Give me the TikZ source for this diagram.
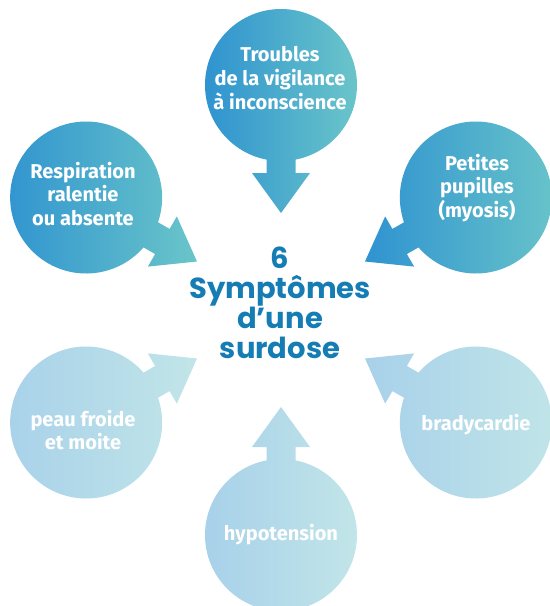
\documentclass[tikz,border=0pt]{standalone}
\usepackage{fontspec}
\setmainfont{Fira Sans}
\newfontfamily\hubfont{Poppins}
\definecolor{deepL}{HTML}{2F93D0}
\definecolor{deepR}{HTML}{6AC5C9}
\definecolor{paleL}{HTML}{A8D1EA}
\definecolor{paleR}{HTML}{C1E5E8}
\definecolor{hubblue}{HTML}{167DB4}
\begin{document}
\begin{tikzpicture}[x=0.02cm,y=-0.02cm]
\tikzstyle{every node}=[text=white,align=center,font=\bfseries\fontsize{11.4}{13.6}\selectfont]
\useasboundingbox (0,0) rectangle (550,606);
\coordinate (hub) at (281,310);
% bulles avec fleche vers le centre
\foreach \a/\lc/\rc in {90/deepL/deepR,150/deepL/deepR,30/deepL/deepR,
 210/paleL/paleR,330/paleL/paleR,270/paleL/paleR}
{\begin{scope}[shift={(hub)},rotate=\a]
 \shade[left color=\lc,right color=\rc] (225,0) circle (76)
  (165,14.5) -- (137,14.5) -- (137,29) -- (97,0) -- (137,-29) -- (137,-14.5) -- (165,-14.5) -- cycle;
 \end{scope}}
\node (vig) at (280,78) {Troubles\\de la vigilance\\à inconscience};
\node (resp) at (83,194) {Respiration\\ralentie\\ou absente};
\node (pup) at (477,188) {Petites\\pupilles\\(myosis)};
\node (peau) at (83,430) {peau froide\\et moite};
\node (brady) at (476,425) {bradycardie};
\node (hypo) at (281,535) {hypotension};
\node[text=hubblue,font=\hubfont\bfseries\fontsize{16.5}{17}\selectfont] (titre) at (280,303)
 {6\\Symptômes\\d’une\\surdose};
\end{tikzpicture}
\end{document}
